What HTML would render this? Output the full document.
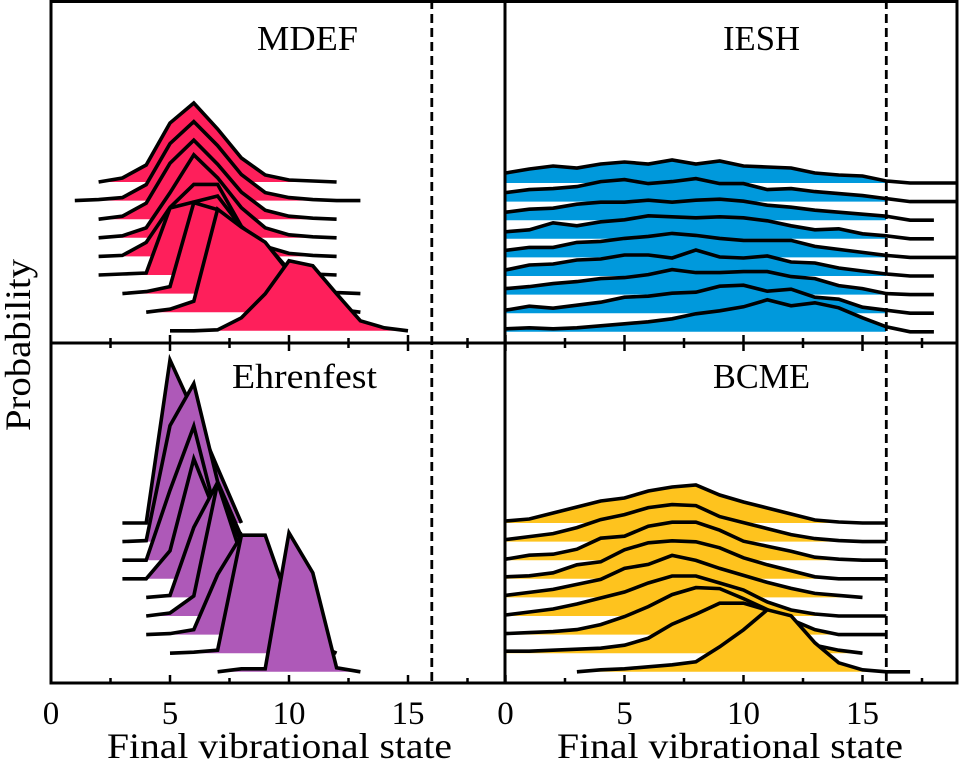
<!DOCTYPE html>
<html><head><meta charset="utf-8"><style>
html,body{margin:0;padding:0;background:#fff;}
svg{display:block;font-family:"Liberation Serif",serif;}
</style></head><body>
<svg id="fig" width="960" height="772" viewBox="0 0 960 772">
<defs>
<clipPath id="clipL"><rect x="51" y="0" width="454" height="683"/></clipPath>
<clipPath id="clipR"><rect x="505" y="0" width="453" height="683"/></clipPath>
<clipPath id="fillL"><rect x="51" y="0" width="381" height="683"/></clipPath>
<clipPath id="fillR"><rect x="505" y="0" width="381" height="683"/></clipPath>
</defs>
<g id="marks"></g>
<g id="frame" fill="none" stroke="#000" stroke-width="3">
<rect x="51" y="1.5" width="906" height="681.5"/>
<line x1="505" y1="0" x2="505" y2="683"/>
<line x1="51" y1="343" x2="958" y2="343"/>
</g>
<g id="ticks"></g>
<text x="257" y="50" font-size="35" textLength="101" lengthAdjust="spacingAndGlyphs">MDEF</text>
<text x="723" y="50" font-size="35" textLength="77" lengthAdjust="spacingAndGlyphs">IESH</text>
<text x="232" y="388" font-size="35" textLength="145" lengthAdjust="spacingAndGlyphs">Ehrenfest</text>
<text x="713" y="388" font-size="35" textLength="97" lengthAdjust="spacingAndGlyphs">BCME</text>
<text x="107" y="758" font-size="36" textLength="345" lengthAdjust="spacingAndGlyphs">Final vibrational state</text>
<text x="557" y="758" font-size="36" textLength="346" lengthAdjust="spacingAndGlyphs">Final vibrational state</text>
<text x="0" y="0" font-size="36" text-anchor="middle" textLength="172" lengthAdjust="spacingAndGlyphs" transform="translate(30,345) rotate(-90)">Probability</text>
</svg>
<script>
// ridge data: start state, heights (arbitrary probability units)
const mdefStart = [2,1,2,2,2,2,3,4,5];
const mdefVals = [
[0,4,17,59,79,53,24,7,2,1,0],
[0,1,3,16,57,79,55,26,8,3,1,0,0],
[0,3,16,56,79,55,27,9,3,1,0],
[0,2,10,45,83,60,30,10,3,1,0],
[0,1,14,49,72,72,30,10,3,1,0],
[0,1,2,67,73,79,48,32,5,1,0],
[0,2,7,91,84,66,51,18,3,1,0],
[0,3,11,103,85,70,40,15,3,0],
[0,0,1,13,37,70,65,37,10,3,0]
];
const ehrStart = [3,3,3,3,4,4,4,5,7];
const ehrVals = [
[0,0,163,111,55,0],
[0,1,116,158,60,5],
[0,0,70,134,40,5,0],
[0,0,28,120,60,10,0],
[0,2,70,115,54,10,0],
[0,3,20,133,60,8,0],
[0,1,5,60,99,40,5,0],
[0,1,3,118,118,50,10,0],
[0,3,3,139,99,4,0]
];
const ieshStart = [0,0,0,0,0,0,0,0,0];
const ieshVals = [
[10,14,17,15,19,21,19,23,19,22,17,16,15,10,8,7,2,0,0,0],
[9,12,13,15,20,22,18,20,23,18,18,12,13,10,8,6,3,0,0,0],
[8,11,12,16,18,18,20,18,20,21,19,15,13,10,8,6,4,0,0],
[7,9,16,13,17,19,23,22,21,22,21,18,13,9,10,5,3,0,0],
[7,10,10,15,16,19,21,24,22,19,17,17,17,11,8,5,2,0,0,0],
[6,11,12,16,17,21,21,18,26,19,18,20,14,13,8,5,2,0,0],
[6,8,11,13,16,17,20,25,22,22,23,23,18,16,9,6,1,0,0],
[3,7,5,8,11,16,17,20,21,27,28,22,24,16,14,6,3,0,0],
[3,4,3,4,6,8,10,13,18,21,25,32,26,29,24,14,5,0,0]
];
const bcmeStart = [0,0,0,0,0,0,0,0,3];
const bcmeVals = [
[2,4,10,16,22,25,32,36,38,28,21,15,9,3,1,0,0],
[2,5,8,14,22,27,34,37,36,25,19,13,7,3,1,0,0],
[1,5,6,11,22,24,34,38,38,30,19,14,9,3,1,0,0],
[2,3,6,14,17,29,36,38,37,31,21,14,8,2,0,0,0],
[2,5,8,13,18,29,33,42,37,29,22,15,9,4,2,0],
[1,4,7,12,18,24,33,40,40,33,26,14,6,2,0,0,0],
[1,2,3,5,10,18,28,40,47,46,36,25,15,5,0,0,0],
[2,2,3,4,5,8,15,29,39,50,50,43,27,8,3,0],
[0,2,3,5,7,10,25,42,62,56,29,9,2,0,0]
];
const tickMajor = [0,5,10,15];
const tickMinor = [2.5,7.5,12.5,17.5];
const cutoffState = 16;

const NS = "http://www.w3.org/2000/svg";
const marks = document.getElementById('marks');
const ticksG = document.getElementById('ticks');
const UNIT = 23.8, SPACING = 18.6;
function xScale(ox, v){ return ox + v*UNIT; }
function baseY(top, i){ return top + i*SPACING; }

function drawPanel(name, ox, top, clip, fclip, color, starts, vals){
  const g = document.createElementNS(NS,'g');
  g.setAttribute('clip-path','url(#'+clip+')');
  
  
  marks.appendChild(g);
  vals.forEach((row,i)=>{
    const b = baseY(top,i);
    const pts = row.map((h,k)=>[xScale(ox,starts[i]+k), b-h]);
    let d='M'+pts[0][0]+','+b;
    pts.forEach(p=>{ d+=' L'+p[0]+','+p[1]; });
    d+=' L'+pts[pts.length-1][0]+','+b+' Z';
    const p=document.createElementNS(NS,'path');
    p.setAttribute('d',d); p.setAttribute('fill',color);
    p.setAttribute('clip-path','url(#'+fclip+')');
    
    
    g.appendChild(p);
    const l=document.createElementNS(NS,'polyline');
    l.setAttribute('points',pts.map(p=>p.join(',')).join(' '));
    l.setAttribute('fill','none'); l.setAttribute('stroke','#000');
    l.setAttribute('stroke-width','3.6'); l.setAttribute('stroke-linejoin','miter');
    
    
    g.appendChild(l);
  });
}
const LOX=51, ROX=505.5;
drawPanel('mdef', LOX, 182, 'clipL', 'fillL', '#fe1f5b', mdefStart, mdefVals);
drawPanel('iesh', ROX, 183, 'clipR', 'fillR', '#0099dc', ieshStart, ieshVals);
drawPanel('ehrenfest', LOX, 523, 'clipL', 'fillL', '#ae59b8', ehrStart, ehrVals);
drawPanel('bcme', ROX, 523, 'clipR', 'fillR', '#fec31e', bcmeStart, bcmeVals);

// dashed cutoff lines
[LOX,ROX].forEach((ox,j)=>{
  const l=document.createElementNS(NS,'line');
  const x=xScale(ox,cutoffState);
  l.setAttribute('x1',x); l.setAttribute('x2',x);
  l.setAttribute('y1',0); l.setAttribute('y2',683);
  l.setAttribute('stroke','#000'); l.setAttribute('stroke-width','2.8');
  l.setAttribute('stroke-dasharray','9,5');
  
  
  ticksG.appendChild(l);
});
// ticks
[LOX,ROX].forEach((ox,j)=>{
  [683,343].forEach(yb=>{
    tickMajor.concat(tickMinor).forEach(v=>{
      const major = tickMajor.includes(v);
      const x=xScale(ox,v);
      const len = major?8:5;
      [[yb,yb-len],[yb,yb+len]].forEach(([a,c])=>{
        if(yb===683 && c>683) return;
        const t=document.createElementNS(NS,'line');
        t.setAttribute('x1',x); t.setAttribute('x2',x);
        t.setAttribute('y1',a); t.setAttribute('y2',c);
        t.setAttribute('stroke','#000'); t.setAttribute('stroke-width','2.5');
        
        
        ticksG.appendChild(t);
      });
    });
  });
  tickMajor.forEach(v=>{
    const t=document.createElementNS(NS,'text');
    t.setAttribute('x',xScale(ox,v)); t.setAttribute('y',724);
    t.setAttribute('font-size','33'); t.setAttribute('text-anchor','middle');
    t.textContent=v;
    
    
    ticksG.appendChild(t);
  });
});
</script>
</body></html>
